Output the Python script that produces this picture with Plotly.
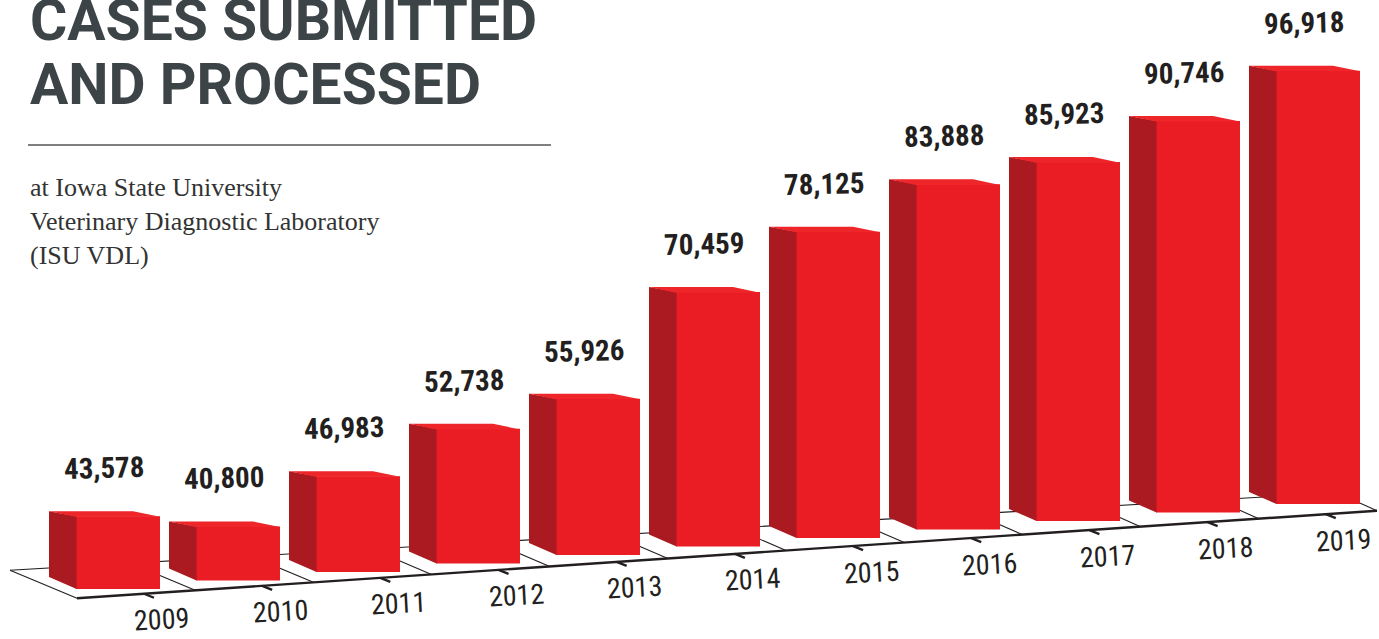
import plotly.graph_objects as go

# ---------------- data ----------------
years = ["2009", "2010", "2011", "2012", "2013", "2014", "2015", "2016", "2017", "2018", "2019"]
cases = [43578, 40800, 46983, 52738, 55926, 70459, 78125, 83888, 85923, 90746, 96918]
value_labels = [f"{v:,}" for v in cases]
title_lines = ["CASES SUBMITTED", "AND PROCESSED"]
subtitle_lines = ["at Iowa State University", "Veterinary Diagnostic Laboratory", "(ISU VDL)"]

# ---------------- layout constants (pseudo-3D scene) ----------------
W, H = 1379, 639
X0_PX, STEP_PX = 118.0, 120.0      # pixel x of first bar centre, pixels per category
BASE_PX, RISE_PX = 589.0, 8.5      # pixel y of first bar bottom, baseline rise per category
CPP = 148.0                        # cases per pixel (vertical scale)
ZERO = 32800.0                     # value sitting on the baseline
BAR_W_PX = 84.0
SIDE_DX_PX, SIDE_DY_TOP_PX, SIDE_DY_BOT_PX = 27.0, 5.0, 12.0
BACK_L, BACK_R = (-48.0, 23.0), (-41.0, 7.0)     # floor back line offsets (px right, px up)
FRONT_L, FRONT_R = (19.0, -5.0), (-1.0, -11.0)   # floor front line offsets

FRONT = "#ea1c24"
SIDE = "#ab1a20"
TOP = "#ee2529"
INK = "#231f20"
TITLE_C = "#3d4448"
NARROW = "Liberation Sans Narrow, Arial Narrow, Roboto Condensed, Roboto, sans-serif"

n = len(cases)
idx = list(range(n))
bw = BAR_W_PX / STEP_PX


def X(u, off_px=0.0):
    return u + off_px / STEP_PX


def Y(val, off_px=0.0):
    return val + off_px * CPP


def base(u):
    return ZERO + RISE_PX * CPP * u


def floor_pt(u, L, R):
    t = (u + 0.5) / n
    ox = L[0] + (R[0] - L[0]) * t
    oy = L[1] + (R[1] - L[1]) * t
    return X(u, ox), Y(base(u), oy)


fig = go.Figure()

# front faces
fig.add_trace(go.Bar(
    x=idx, y=[v - ZERO for v in cases], base=[base(i) for i in idx], width=bw,
    marker=dict(color=FRONT, line=dict(width=0)),
    customdata=cases, hovertext=years,
    hovertemplate="%{hovertext}: %{customdata:,}<extra></extra>",
))

# side (dark) faces and top faces
sx, sy, tx, ty = [], [], [], []
for i, v in zip(idx, cases):
    xl, xr = i - bw / 2, i + bw / 2
    b = base(i)
    t = b + v - ZERO
    xls = X(xl, 0.6)
    sx += [xls, xls, X(xl, -SIDE_DX_PX), X(xl, -SIDE_DX_PX), xls, None]
    sy += [b, t, Y(t, SIDE_DY_TOP_PX), Y(b, SIDE_DY_BOT_PX), b, None]
    tb = Y(t, -0.6)
    tx += [xl, xr, X(xr, -SIDE_DX_PX), X(xl, -SIDE_DX_PX), xl, None]
    ty += [tb, tb, Y(t, SIDE_DY_TOP_PX), Y(t, SIDE_DY_TOP_PX), tb, None]

fig.add_trace(go.Scatter(x=sx, y=sy, mode="lines", fill="toself", fillcolor=SIDE,
                         line=dict(width=0, color=SIDE), hoverinfo="skip"))
fig.add_trace(go.Scatter(x=tx, y=ty, mode="lines", fill="toself", fillcolor=TOP,
                         line=dict(width=0, color=TOP), hoverinfo="skip"))

# floor
shapes = []
bl = floor_pt(-0.5, BACK_L, BACK_R)
br = floor_pt(n - 0.5, BACK_L, BACK_R)
fl = floor_pt(-0.5, FRONT_L, FRONT_R)
fr = floor_pt(n - 0.5, FRONT_L, FRONT_R)
shapes.append(dict(type="line", xref="x", yref="y", x0=bl[0], y0=bl[1], x1=br[0], y1=br[1],
                   line=dict(color=INK, width=1.1), layer="below"))
shapes.append(dict(type="line", xref="x", yref="y", x0=fl[0], y0=fl[1], x1=fr[0], y1=fr[1],
                   line=dict(color=INK, width=2.4), layer="below"))
for j in range(n + 1):
    u = j - 0.5
    p0 = floor_pt(u, BACK_L, BACK_R)
    p1 = floor_pt(u, FRONT_L, FRONT_R)
    shapes.append(dict(type="line", xref="x", yref="y", x0=p0[0], y0=p0[1], x1=p1[0], y1=p1[1],
                       line=dict(color=INK, width=1.1), layer="below"))

annotations = []
for i in idx:
    x0, y0 = floor_pt(i + 8 / STEP_PX, FRONT_L, FRONT_R)
    shapes.append(dict(type="line", xref="x", yref="y", x0=x0, y0=y0, x1=X(x0, 10), y1=Y(y0, -4),
                       line=dict(color=INK, width=2.4), layer="below"))
    annotations.append(dict(x=X(x0, 18), y=Y(y0, -26), xref="x", yref="y", text=years[i],
                            showarrow=False, xanchor="center", yanchor="middle", textangle=-3,
                            font=dict(family=NARROW, size=28, color=INK)))
    annotations.append(dict(x=X(i, -14), y=Y(cases[i] + RISE_PX * CPP * i, 48), xref="x", yref="y",
                            text=value_labels[i], showarrow=False, xanchor="center", yanchor="middle",
                            textangle=-1.5,
                            font=dict(family=NARROW, size=29, color=INK, weight="bold")))

# title block
annotations.append(dict(x=28 / W, y=1 - 20 / H, xref="paper", yref="paper", text=title_lines[0],
                        showarrow=False, xanchor="left", yanchor="middle",
                        font=dict(family="Roboto, Arial, sans-serif", size=57, color=TITLE_C, weight="bold")))
annotations.append(dict(x=28 / W, y=1 - 84 / H, xref="paper", yref="paper", text=title_lines[1],
                        showarrow=False, xanchor="left", yanchor="middle",
                        font=dict(family="Roboto, Arial, sans-serif", size=57, color=TITLE_C, weight="bold")))
annotations.append(dict(x=28 / W, y=1 - 221 / H, xref="paper", yref="paper",
                        text="<br>".join(subtitle_lines), align="left",
                        showarrow=False, xanchor="left", yanchor="middle",
                        font=dict(family="Liberation Serif, Times New Roman, serif", size=26, color="#333333")))
shapes.append(dict(type="line", xref="paper", yref="paper", x0=28 / W, x1=551 / W,
                   y0=1 - 145 / H, y1=1 - 145 / H, line=dict(color="#555555", width=1.3)))

fig.update_layout(
    width=W, height=H, margin=dict(l=0, r=0, t=0, b=0),
    paper_bgcolor="white", plot_bgcolor="white", showlegend=False,
    xaxis=dict(range=[X(0, -X0_PX), X(0, W - X0_PX)], visible=False, fixedrange=True),
    yaxis=dict(range=[Y(ZERO, -(H - BASE_PX)), Y(ZERO, BASE_PX)], visible=False, fixedrange=True),
    shapes=shapes, annotations=annotations,
)

fig.write_html("out.html")
